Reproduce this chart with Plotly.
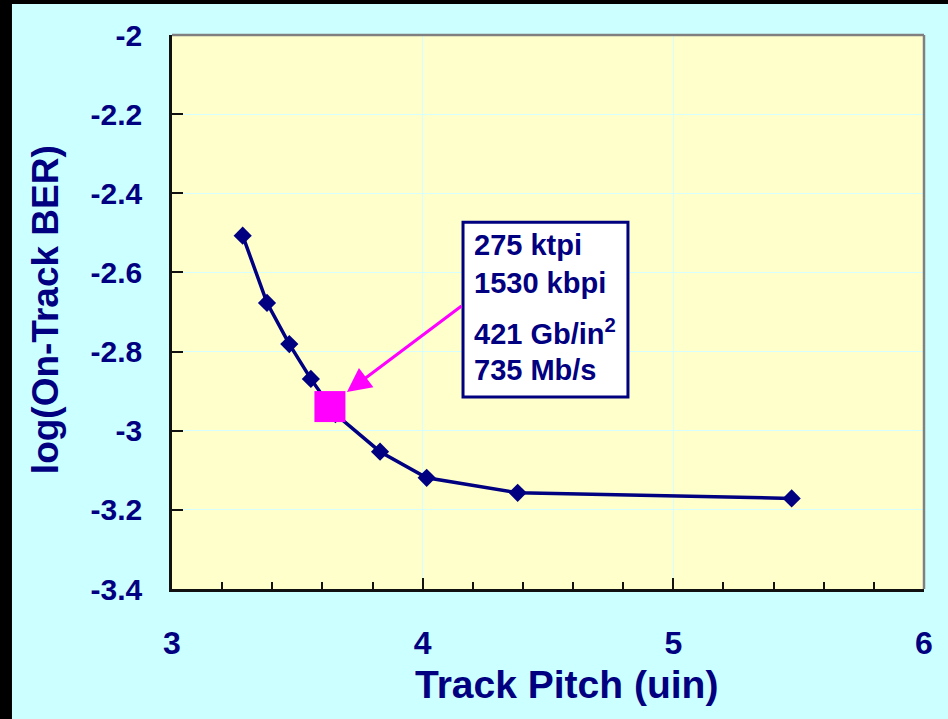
import plotly.graph_objects as go

# Track pitch sweep: on-track bit error rate
track_pitch = [3.282, 3.379, 3.468, 3.554, 3.652, 3.830, 4.016, 4.379, 5.472]
log_ber = [-2.507, -2.677, -2.781, -2.869, -2.958, -3.053, -3.119, -3.157, -3.171]

# Highlighted operating point
op_pitch = [3.630]
op_ber = [-2.939]
op_lines = ["275 ktpi", "1530 kbpi", "421 Gb/in<sup>2</sup>", "735 Mb/s"]

x_ticks = [3, 4, 5, 6]
y_ticks = [-2, -2.2, -2.4, -2.6, -2.8, -3, -3.2, -3.4]

NAVY = "#000080"
MAGENTA = "#FF00FF"
FONT = "Liberation Sans, Arial, sans-serif"

fig = go.Figure()

fig.add_trace(go.Scatter(
    x=track_pitch, y=log_ber, mode="lines+markers",
    line=dict(color=NAVY, width=3.5),
    marker=dict(symbol="diamond", size=14, color=NAVY),
    showlegend=False, cliponaxis=False,
))
fig.add_trace(go.Scatter(
    x=op_pitch, y=op_ber, mode="markers",
    marker=dict(symbol="square", size=31, color=MAGENTA),
    showlegend=False,
))

# Callout box
fig.add_shape(type="rect", xref="x", yref="y",
              x0=4.161, x1=4.819, y0=-2.473, y1=-2.915,
              line=dict(color=NAVY, width=3), fillcolor="white", layer="above")

line_y = [-2.531, -2.627, -2.750, -2.847]
annotations = []
for txt, yy in zip(op_lines, line_y):
    annotations.append(dict(
        x=4.195, y=yy, xref="x", yref="y", text=f"<b>{txt}</b>", showarrow=False,
        xanchor="left", yanchor="middle",
        font=dict(family=FONT, size=29, color=NAVY),
    ))

# Arrow from callout to the highlighted point
annotations.append(dict(
    x=3.698, y=-2.902, ax=4.161, ay=-2.682, xref="x", yref="y",
    axref="x", ayref="y", text="", showarrow=True,
    arrowhead=2, arrowsize=1.6, arrowwidth=3, arrowcolor=MAGENTA,
))

# Axis titles
annotations.append(dict(
    x=0.524, y=-0.172, xref="paper", yref="paper", text="<b>Track Pitch (uin)</b>",
    showarrow=False, xanchor="center", yanchor="middle",
    font=dict(family=FONT, size=39, color=NAVY),
))
annotations.append(dict(
    x=-0.169, y=0.505, xref="paper", yref="paper", text="<b>log(On-Track BER)</b>",
    showarrow=False, xanchor="center", yanchor="middle", textangle=-90,
    font=dict(family=FONT, size=37, color=NAVY),
))

shapes = [
    # top and right frame
    dict(type="line", xref="paper", yref="paper", x0=0, x1=1, y0=1, y1=1,
         line=dict(color="#808080", width=2.5)),
    dict(type="line", xref="paper", yref="paper", x0=1, x1=1, y0=0, y1=1,
         line=dict(color="#808080", width=2.5)),
    # dark strips along the top and left edges of the page
    dict(type="rect", xref="paper", yref="paper", x0=-0.235, x1=-0.2128,
         y0=-0.3, y1=1.1, line=dict(width=0), fillcolor="black"),
    dict(type="rect", xref="paper", yref="paper", x0=-0.235, x1=1.1,
         y0=1.0560, y1=1.1, line=dict(width=0), fillcolor="black"),
]
for s in shapes:
    fig.add_shape(**s)

fig.update_layout(
    width=948, height=719,
    margin=dict(l=172, r=24, t=35, b=130),
    paper_bgcolor="#CCFFFF", plot_bgcolor="#FFFFCC",
    annotations=annotations,
    font=dict(family=FONT, color=NAVY),
)

fig.update_xaxes(
    range=[3, 6], tickvals=x_ticks, ticktext=[f"<b>{v}</b>" for v in x_ticks],
    showgrid=True, gridcolor="#D8FFFF", gridwidth=1,
    showline=True, linecolor="#111111", linewidth=2.5,
    ticks="inside", ticklen=11, tickwidth=2, tickcolor="#111111",
    minor=dict(dtick=0.2, ticks="inside", ticklen=7, tickwidth=1.5, tickcolor="#111111", showgrid=False),
    tickfont=dict(family=FONT, size=32, color=NAVY),
    ticklabelstandoff=24, zeroline=False,
)
fig.update_yaxes(
    range=[-3.4, -2], tickvals=y_ticks, ticktext=[f"<b>{v:g}</b>" for v in y_ticks],
    showgrid=True, gridcolor="#D8FFFF", gridwidth=1,
    showline=True, linecolor="#111111", linewidth=2.5,
    ticks="inside", ticklen=11, tickwidth=2, tickcolor="#111111",
    tickfont=dict(family=FONT, size=30, color=NAVY),
    ticklabelstandoff=21, zeroline=False,
)

fig.write_html("out.html")
